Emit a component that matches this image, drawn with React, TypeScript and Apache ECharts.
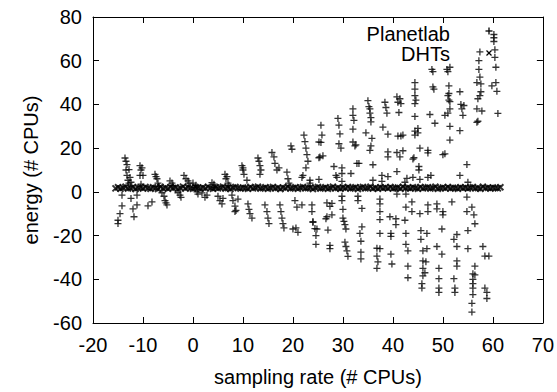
import React, { useEffect, useRef } from "react";
import * as echarts from "echarts";

const FONT = '"Liberation Sans", Arial, Helvetica, sans-serif';

const xRange = { min: -20, max: 70, interval: 10 };
const yRange = { min: -60, max: 80, interval: 20 };
const seriesNames = ["Planetlab", "DHTs"];
const xTitle = "sampling rate (# CPUs)";
const yTitle = "energy (# CPUs)";

// Planetlab: scattered points, left part (x < 21)
const planetlabLeft: [number, number][] = [
  [-15.0, -13], [-15.0, -14.5], [-14.6, -10], [-14.2, -6.4], [-14.2, -1.5],
  [-13.6, 15.5], [-13.4, 14], [-13.2, 12.5], [-13.4, 10], [-13.2, 7.5], [-13.0, 5.3], [-12.8, 4],
  [-12.8, 10.2], [-12.6, 6.6], [-12.4, 4.4], [-12.4, -3], [-12.0, -7.8], [-11.8, -11.4], [-11.2, -1.5], [-11.2, -6],
  [-10.6, 12], [-10.4, 10], [-10.6, 7.5], [-10.4, 3.5], [-10.0, 7.5], [-10.2, 11],
  [-9.0, -6.4], [-8.2, -4.6],
  [-7.6, 8], [-7.2, 6], [-7.0, 4], [-6.8, 2.5], [-7.4, 7],
  [-6.2, -0.4], [-5.8, -2], [-5.6, -4], [-5.2, -6], [-5.4, -5],
  [-4.6, 5], [-4.0, 3], [-4.2, 4],
  [-3.0, -0.4], [-2.4, -2.5], [-2.6, -1.5],
  [-1.8, 7.5], [-1.4, 6], [-1.0, 5], [-0.8, 4],
  [0.0, 4], [0.4, 2], [0.8, 0], [0.6, 3], [1.0, -1],
  [1.8, -0.5], [2.4, -2.5], [2.8, -1.5],
  [3.8, 4.2], [4.4, 2], [4.2, 3.5],
  [5.0, -2], [5.4, -4], [5.8, -5.5], [6.0, -3],
  [6.4, 8], [6.6, 6], [7.0, 4], [7.2, 3], [6.8, 7],
  [7.8, -1.5], [8.0, -4], [8.4, -6.5], [8.6, -8.5], [8.4, -9],
  [9.0, -3.3],
  [9.8, 12], [10.0, 10], [10.2, 8], [10.8, 5.3], [10.0, 11],
  [11.0, -5.5], [11.2, -8], [11.4, -10], [11.8, -12],
  [13.0, 15.5], [13.2, 14], [13.4, 12], [13.6, 10], [13.4, 8],
  [14.4, -6], [14.8, -9], [15.0, -12], [15.2, -14.5],
  [15.8, 18], [16.2, 16], [16.4, 13], [16.8, 10], [17.2, 11],
  [17.4, -6], [17.6, -9], [17.8, -12], [18.0, -14.5], [18.2, -16.5],
  [18.8, 9], [19.0, 6], [19.2, 4],
  [19.6, 21], [19.8, 19.5],
  [20.4, -4], [20.8, -7], [20.6, -16.5], [20.0, -17],
];

// Planetlab: right part, above zero
const planetlabUpper: [number, number][] = [
  [21.8, 6.6], [22.0, 7.5], [22.2, 26], [22.4, 23], [22.6, 20], [22.8, 17], [23.0, 14], [22.6, 11],
  [23.4, 4], [23.4, 5.3], [25.2, 5.7], [25.2, 22.8], [25.2, 15.6],
  [25.6, 30.5], [25.8, 26], [25.6, 22.6], [26.0, 16.5], [25.4, 16],
  [28.2, 11.6], [28.6, 7.5], [28.8, 6.6], [29.8, 11],
  [29.0, 33.6], [29.2, 30.5], [29.4, 26.5], [29.2, 22], [29.6, 20], [29.8, 8.4], [29.8, 4.8],
  [31.6, 8.4],
  [32.0, 38], [32.0, 35], [32.2, 32.7], [32.0, 28.7], [32.0, 22.8], [32.4, 21], [32.6, 21.5],
  [32.8, 13], [33.2, 13],
  [34.6, 27], [35.0, 41.7], [35.2, 39], [35.4, 38], [35.4, 36], [35.6, 34], [35.6, 32], [35.4, 19], [35.6, 21], [35.8, 24.5],
  [36.0, 12.4], [36.0, 5.3],
  [37.8, 7.5], [37.8, 4.8], [39.0, 7],
  [38.0, 29.6], [38.4, 41], [38.6, 38.6], [38.8, 36], [39.0, 26.4], [39.0, 18.3], [39.0, 16],
  [40.8, 43.5], [41.0, 41], [41.2, 36.3], [41.0, 25.5], [41.6, 25.5], [40.8, 18], [41.4, 16], [40.8, 9.3],
  [41.4, 42.6], [41.6, 40.4], [42.0, 26], [42.0, 18.8], [42.8, 6.2], [42.4, 4.4],
  [44.0, 15], [44.4, 50], [44.4, 47], [44.4, 44], [44.6, 42], [44.4, 40.4], [44.4, 34.5], [44.4, 27.8], [44.4, 26],
  [44.2, 15.6], [44.0, 6.6], [45.4, 5.7], [45.4, 20],
  [45.0, 29], [45.0, 27], [45.2, 11.6], [45.2, 10],
  [47.0, 19], [47.0, 17.8], [47.4, 35.4], [47.6, 7.5], [47.0, 6.6], [48.4, 31.4], [48.0, 55], [47.8, 56], [48.0, 48], [48.2, 47],
  [50.0, 17], [50.4, 17.4], [50.4, 35], [50.8, 56], [51.0, 55], [51.2, 48.5], [51.2, 45], [51.4, 41.3], [51.4, 38],
  [51.4, 30], [51.4, 23.7], [51.4, 57], [51.0, 36], [51.2, 42], [51.0, 44],
  [53.4, 45.8], [53.6, 40], [53.8, 38], [54.0, 35], [53.4, 28], [53.4, 7.5], [54.8, 12.5], [55.0, 4.4], [54.2, 39.5],
  [56.8, 38], [56.8, 31.8], [57.0, 32.3], [57.8, 37], [57.4, 64], [57.2, 60], [57.2, 56], [57.4, 52.5], [56.8, 50],
  [57.6, 49.4], [57.6, 45.8], [57.4, 44], [57.0, 42.6],
  [59.8, 48.5], [60.2, 72], [60.2, 70.5], [60.2, 68.8], [60.4, 65], [60.4, 61.5], [60.6, 57], [60.6, 50], [60.8, 46], [61.0, 35.9],
];

// Planetlab: right part, below zero
const planetlabLower: [number, number][] = [
  [21.8, -6], [21.0, -18.5], [23.8, -6], [23.8, -9], [24.0, -14], [24.0, -13.6], [24.4, -16.8], [24.6, -20], [24.6, -24], [24.8, -17],
  [26.8, -5], [27.4, -6.6], [26.6, -12.3], [27.0, -17.5], [27.4, -24.5], [27.4, -26], [27.8, -5.3], [27.8, -10.5], [26.8, -11.4],
  [29.8, -2], [29.8, -4], [30.0, -8], [30.0, -12], [30.2, -13.5], [30.4, -15], [30.6, -17], [30.4, -23], [30.6, -25], [30.8, -27], [31.0, -29.5],
  [33.0, -2], [33.0, -4], [33.4, -19], [33.6, -22.6], [33.6, -27.6], [33.6, -30.7], [33.8, -7.6], [33.8, -16],
  [36.8, -25.8], [36.8, -29.4], [37.0, -32], [36.8, -35], [37.4, -3.3], [37.4, -5.5], [37.4, -9], [37.4, -12.7], [37.4, -19], [37.4, -26],
  [39.4, -11.4], [39.6, -19], [39.6, -20.4], [39.6, -28.5], [39.8, -33], [40.6, -12.3], [40.6, -15], [40.8, -1],
  [42.6, -1], [42.6, -7], [42.4, -13], [42.6, -19], [42.6, -24], [43.0, -27], [43.0, -34], [43.0, -39.3], [43.8, -4.6], [43.8, -9],
  [45.4, -10], [45.6, -17.7], [45.6, -21.7], [46.0, -27], [46.0, -31.6], [46.0, -35], [46.0, -38.4], [45.8, -42], [45.8, -44],
  [47.0, -6], [47.0, -9], [46.8, -19], [46.8, -26], [46.6, -32], [46.4, -37],
  [48.8, -5.5], [48.8, -7.8], [48.8, -25], [49.2, -35], [49.2, -39.7], [49.2, -44], [49.2, -46], [49.8, -28.5], [50.0, -9], [50.0, -10.5], [49.8, -17],
  [51.8, -4.6], [52.2, -21.7], [52.2, -39.7], [52.4, -44], [52.4, -46], [52.8, -31.6], [52.8, -34], [52.8, -19.5], [52.8, -25],
  [54.8, -2.4], [54.8, -9], [55.0, -17.7], [55.0, -26], [55.8, -7], [56.2, -10.5], [56.4, -14.6], [56.4, -34], [56.0, -37.5],
  [56.0, -40], [56.0, -42], [56.0, -44], [56.0, -47], [55.8, -51], [55.8, -55], [56.4, -38],
  [58.0, -25], [58.4, -29.4], [59.2, -29.4], [58.4, -44], [58.8, -46], [58.8, -48.8],
];

// DHTs: dense band just above zero
const dhtsX: number[] = [
  -15.5, -15, -14.5, -14, -13.5, -13, -12.5, -12, -11.5, -11,
  -10.5, -10, -9.5, -9, -8.5, -8, -7.5, -7, -6.5, -6,
  -5.5, -5, -4.5, -4, -3.5, -3, -2.5, -2, -1.5, -1,
  -0.5, 0, 0.5, 1, 1.5, 2, 2.5, 3, 3.5, 4,
  4.5, 5, 5.5, 6, 6.5, 7, 7.5, 8, 8.5, 9,
  9.5, 10, 10.5, 11, 11.5, 12, 12.5, 13, 13.5, 14,
  14.5, 15, 15.5, 16, 16.5, 17, 17.5, 18, 18.5, 19,
  19.5, 20, 20.5, 21, 21.5, 22, 22.5, 23, 23.5, 24,
  24.5, 25, 25.5, 26, 26.5, 27, 27.5, 28, 28.5, 29,
  29.5, 30, 30.5, 31, 31.5, 32, 32.5, 33, 33.5, 34,
  34.5, 35, 35.5, 36, 36.5, 37, 37.5, 38, 38.5, 39,
  39.5, 40, 40.5, 41, 41.5, 42, 42.5, 43, 43.5, 44,
  44.5, 45, 45.5, 46, 46.5, 47, 47.5, 48, 48.5, 49,
  49.5, 50, 50.5, 51, 51.5, 52, 52.5, 53, 53.5, 54,
  54.5, 55, 55.5, 56, 56.5, 57, 57.5, 58, 58.5, 59,
  59.5, 60, 60.5, 61, 61.5,
];
const dhtsY: number[] = [
  1.6, 2.1, 1.4, 1.9, 2.3, 1.5, 1.8, 2.2, 1.3, 1.9,
  2.0, 1.5, 2.2, 1.7, 1.4, 2.1, 1.8, 1.3, 2.3, 1.6,
  1.9, 1.4, 2.2, 1.7, 2.0, 1.3, 1.8, 2.4, 1.5, 2.1,
  1.7, 1.4, 2.2, 1.9, 1.5, 2.0, 1.6, 2.3, 1.8, 1.4,
  2.1, 1.6, 1.9, 2.3, 1.5, 1.8, 1.3, 2.0, 2.2, 1.7,
  1.5, 2.0, 1.8, 1.4, 2.2, 1.6, 1.9, 2.3, 1.5, 1.7,
  2.1, 1.4, 1.8, 2.2, 1.6, 1.9, 1.3, 2.0, 1.7, 2.3,
  1.5, 1.8, 2.1, 1.4, 1.9, 2.2, 1.6, 1.8, 2.0, 1.3,
  1.9, 2.2, 1.5, 1.7, 2.1, 1.4, 1.8, 2.3, 1.6, 1.9,
  1.4, 2.0, 1.7, 2.2, 1.5, 1.8, 2.1, 1.3, 1.9, 2.2,
  1.6, 1.8, 2.3, 1.5, 1.9, 1.4, 2.1, 1.7, 2.0, 1.6,
  2.2, 1.5, 1.8, 2.0, 1.4, 2.3, 1.7, 1.9, 1.5, 2.1,
  1.8, 1.4, 2.2, 1.6, 1.9, 2.1, 1.5, 1.8, 2.3, 1.4,
  1.7, 2.0, 1.6, 2.2, 1.5, 1.9, 1.8, 1.4, 2.1, 1.7,
  2.0, 1.5, 1.9, 2.2, 1.6, 1.8, 1.4, 2.3, 1.7, 1.9,
  1.5, 2.0, 1.8, 1.6, 2.1,
];

const PLUS = "path://M0,5L10,5M5,0L5,10";
const CROSS = "path://M0,0L10,10M0,10L10,0";

export default function App() {
  const ref = useRef<HTMLDivElement>(null);

  useEffect(() => {
    document.body.style.margin = "0";
    if (!ref.current) return;
    const chart = echarts.init(ref.current, undefined, { renderer: "svg" });

    const planetlab = [...planetlabLeft, ...planetlabUpper, ...planetlabLower];
    const dhts = dhtsX.map((x, i) => [x, dhtsY[i]]);

    const baseAxis = {
      type: "value" as const,
      axisLine: { show: true, onZero: false, lineStyle: { color: "#000", width: 1 } },
      axisTick: { show: true, inside: true, length: 6, lineStyle: { color: "#000", width: 1 } },
      splitLine: { show: false },
    };
    const labelStyle = { color: "#000", fontSize: 20, fontFamily: FONT };

    chart.setOption({
      animation: false,
      backgroundColor: "#fff",
      textStyle: { fontFamily: FONT },
      grid: { left: 93, right: 14, top: 17, bottom: 64, containLabel: false },
      xAxis: [
        {
          ...baseAxis,
          ...xRange,
          position: "bottom",
          axisLabel: { ...labelStyle, margin: 12 },
          name: xTitle,
          nameLocation: "middle",
          nameGap: 44,
          nameTextStyle: labelStyle,
        },
        {
          ...baseAxis,
          ...xRange,
          position: "top",
          axisLabel: { show: false },
        },
      ],
      yAxis: [
        {
          ...baseAxis,
          ...yRange,
          position: "left",
          axisLabel: { ...labelStyle, margin: 11 },
          name: yTitle,
          nameLocation: "middle",
          nameGap: 52,
          nameRotate: 90,
          nameTextStyle: labelStyle,
        },
        {
          ...baseAxis,
          ...yRange,
          position: "right",
          axisLabel: { show: false },
        },
      ],
      series: [
        {
          type: "scatter",
          name: seriesNames[0],
          data: planetlab,
          symbol: PLUS,
          symbolSize: 7,
          itemStyle: { color: "transparent", borderColor: "#000", borderWidth: 1.3 },
          silent: true,
          xAxisIndex: 0,
          yAxisIndex: 0,
        },
        {
          type: "scatter",
          name: seriesNames[1],
          data: dhts,
          symbol: CROSS,
          symbolSize: 6,
          itemStyle: { color: "transparent", borderColor: "#000", borderWidth: 2 },
          silent: true,
          xAxisIndex: 0,
          yAxisIndex: 0,
        },
      ],
      graphic: [
        {
          type: "text",
          x: 450,
          y: 34,
          style: { text: seriesNames[0], align: "right", verticalAlign: "middle", fontSize: 20, fontFamily: FONT, fill: "#000" },
        },
        {
          type: "text",
          x: 450,
          y: 54,
          style: { text: seriesNames[1], align: "right", verticalAlign: "middle", fontSize: 20, fontFamily: FONT, fill: "#000" },
        },
        { type: "line", shape: { x1: 485.5, y1: 31, x2: 492.5, y2: 31 }, style: { stroke: "#000", lineWidth: 1.3 } },
        { type: "line", shape: { x1: 489, y1: 27.5, x2: 489, y2: 34.5 }, style: { stroke: "#000", lineWidth: 1.3 } },
        { type: "line", shape: { x1: 486.5, y1: 50.5, x2: 491.5, y2: 55.5 }, style: { stroke: "#000", lineWidth: 1.3 } },
        { type: "line", shape: { x1: 486.5, y1: 55.5, x2: 491.5, y2: 50.5 }, style: { stroke: "#000", lineWidth: 1.3 } },
      ],
    });

    return () => chart.dispose();
  }, []);

  return <div ref={ref} style={{ width: 557, height: 392 }} />;
}
